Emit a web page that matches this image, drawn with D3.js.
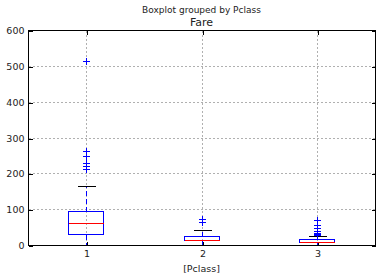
<!DOCTYPE html>
<html>
<head>
<meta charset="utf-8">
<script src="https://cdn.jsdelivr.net/npm/d3@7"></script>
<style>
  body { margin: 0; background: #fff; }
  text { font-family: "DejaVu Sans", sans-serif; fill: #222; }
  line, rect { shape-rendering: crispEdges; }
</style>
</head>
<body>
<div id="chart"></div>
<script>
// chart data: fare stats per passenger class
var classes = ["1", "2", "3"];
var q1 = [30.92, 13.0, 7.75];
var medians = [60.29, 14.25, 8.05];
var q3 = [93.5, 26.0, 15.5];
var whiskLo = [0, 0, 0];
var whiskHi = [164.87, 41.58, 25.47];
var outliers = [
  [211.34, 211.5, 221.78, 227.53, 247.52, 262.38, 263.0, 512.33],
  [65.0, 73.5],
  [27.9, 29.13, 31.28, 31.39, 34.38, 39.69, 46.9, 56.5, 69.55]
];
var yTicks = [0, 100, 200, 300, 400, 500, 600];

var svgWidth = 381;
var svgHeight = 280;
var margin = { top: 30, right: 6, bottom: 35, left: 28 };
var chartWidth = svgWidth - margin.left - margin.right;
var chartHeight = svgHeight - margin.top - margin.bottom;

var svg = d3.select("#chart")
  .append("svg")
  .attr("width", svgWidth)
  .attr("height", svgHeight);

var chartGroup = svg.append("g")
  .attr("transform", `translate(${margin.left + 0.5}, ${margin.top + 0.5})`);

var xScale = d3.scaleLinear()
  .domain([0.5, 3.5])
  .range([0, chartWidth])
  .interpolate(d3.interpolateRound);

var yScale = d3.scaleLinear()
  .domain([0, 600])
  .range([chartHeight, 0])
  .interpolate(d3.interpolateRound);

var boxW = 35;
var capW = 18;

// grid
chartGroup.selectAll(".hgrid")
  .data(yTicks.slice(1, -1))
  .enter()
  .append("line")
  .attr("x1", 0).attr("x2", chartWidth)
  .attr("y1", d => yScale(d)).attr("y2", d => yScale(d))
  .attr("stroke", "#b0b0b0")
  .attr("stroke-dasharray", "2,2");

chartGroup.selectAll(".vgrid")
  .data(classes)
  .enter()
  .append("line")
  .attr("x1", (d, i) => xScale(i + 1)).attr("x2", (d, i) => xScale(i + 1))
  .attr("y1", 0).attr("y2", chartHeight)
  .attr("stroke", "#b0b0b0")
  .attr("stroke-dasharray", "2,2");

// axes
var yAxis = d3.axisLeft(yScale).tickValues(yTicks).tickSize(-4).tickPadding(4);
var yG = chartGroup.append("g").call(yAxis);
yG.select(".domain").remove();
yG.selectAll("text").style("font-size", "9.5px").attr("fill", "#222");

var yAxisR = d3.axisRight(yScale).tickValues(yTicks).tickSize(-4).tickFormat("");
var yR = chartGroup.append("g").attr("transform", `translate(${chartWidth},0)`).call(yAxisR);
yR.select(".domain").remove();

var xAxis = d3.axisBottom(xScale).tickValues([1, 2, 3]).tickSize(-4).tickPadding(5)
  .tickFormat((d, i) => classes[i]);
var xG = chartGroup.append("g").attr("transform", `translate(0,${chartHeight})`).call(xAxis);
xG.select(".domain").remove();
xG.selectAll("text").style("font-size", "9.5px").attr("fill", "#222");

var xAxisT = d3.axisTop(xScale).tickValues([1, 2, 3]).tickSize(-4).tickFormat("");
var xT = chartGroup.append("g").call(xAxisT);
xT.select(".domain").remove();

// boxes
var boxes = chartGroup.selectAll(".box")
  .data(classes)
  .enter()
  .append("g")
  .attr("transform", (d, i) => `translate(${xScale(i + 1)},0)`);

boxes.append("line")
  .attr("y1", (d, i) => yScale(q3[i])).attr("y2", (d, i) => yScale(whiskHi[i]))
  .attr("stroke", "blue").attr("stroke-dasharray", "5,3");
boxes.append("line")
  .attr("y1", (d, i) => yScale(q1[i])).attr("y2", (d, i) => yScale(whiskLo[i]))
  .attr("stroke", "blue").attr("stroke-dasharray", "5,3");

boxes.append("line")
  .attr("x1", -capW / 2).attr("x2", capW / 2)
  .attr("y1", (d, i) => yScale(whiskHi[i])).attr("y2", (d, i) => yScale(whiskHi[i]))
  .attr("stroke", "black");

boxes.append("rect")
  .attr("x", -Math.round(boxW / 2))
  .attr("width", boxW)
  .attr("y", (d, i) => yScale(q3[i]))
  .attr("height", (d, i) => yScale(q1[i]) - yScale(q3[i]))
  .attr("fill", "none")
  .attr("stroke", "blue");

boxes.append("line")
  .attr("x1", -Math.round(boxW / 2)).attr("x2", boxW - Math.round(boxW / 2))
  .attr("y1", (d, i) => yScale(medians[i])).attr("y2", (d, i) => yScale(medians[i]))
  .attr("stroke", "red");

// fliers
boxes.each(function(d, i) {
  var g = d3.select(this);
  outliers[i].forEach(v => {
    var y = yScale(v);
    g.append("path")
      .attr("d", `M-3.5,${y}H3.5M0,${y - 3.5}V${y + 3.5}`)
      .attr("stroke", "blue")
      .attr("fill", "none");
  });
});

// frame
chartGroup.append("rect")
  .attr("width", chartWidth)
  .attr("height", chartHeight)
  .attr("fill", "none")
  .attr("stroke", "black");

// titles
svg.append("text")
  .attr("x", margin.left + chartWidth / 2)
  .attr("y", 13)
  .attr("text-anchor", "middle")
  .style("font-size", "9px")
  .text("Boxplot grouped by Pclass");

svg.append("text")
  .attr("x", margin.left + chartWidth / 2)
  .attr("y", 26)
  .attr("text-anchor", "middle")
  .style("font-size", "11px")
  .text("Fare");

svg.append("text")
  .attr("x", margin.left + chartWidth / 2)
  .attr("y", 272)
  .attr("text-anchor", "middle")
  .style("font-size", "9.5px")
  .text("[Pclass]");
</script>
</body>
</html>
